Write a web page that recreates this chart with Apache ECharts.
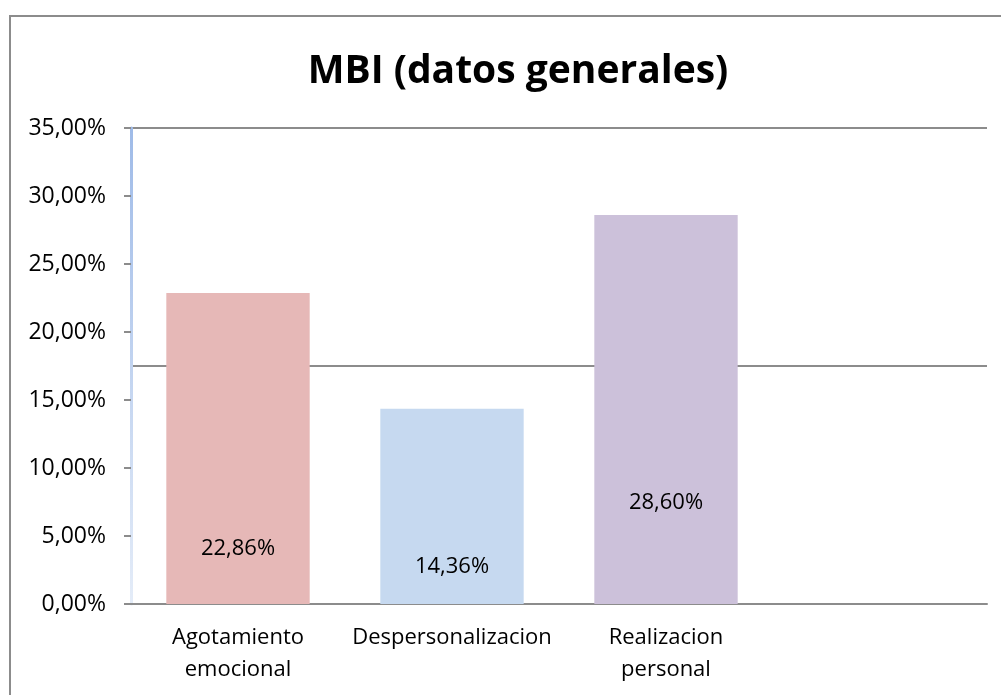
<!DOCTYPE html>
<html>
<head>
<meta charset="utf-8">
<script src="https://cdn.jsdelivr.net/npm/echarts@6/dist/echarts.min.js"></script>
<style>
  html, body { margin: 0; padding: 0; background: #fff; }
  #main { width: 1001px; height: 695px; }
</style>
</head>
<body>
<div id="main"></div>
<script>
// data
var categories = ['Agotamiento\nemocional', 'Despersonalizacion', 'Realizacion\npersonal', ''];
var values = [22.86, 14.36, 28.60, null];
var barColors = ['#e6b8b7', '#c6d9f0', '#ccc1da'];
var yMin = 0;
var yMax = 35;
var yStep = 5;
var guideStep = 17.5;

var font = '"Open Sans", "Noto Sans", sans-serif';

function pct(v) {
  return v.toFixed(2).replace('.', ',') + '%';
}

// how high each value label sits above the base of its bar
var labelLift = [44, 26, 90];

var chartDom = document.getElementById('main');
var myChart = echarts.init(chartDom, null, { renderer: 'canvas' });

var barData = values.map(function (v, i) {
  if (v === null) return null;
  return {
    value: v,
    itemStyle: { color: barColors[i] },
    label: { distance: labelLift[i] }
  };
});

var option = {
  animation: false,
  backgroundColor: '#fff',
  graphic: [{
    type: 'rect',
    shape: { x: 10, y: 16, width: 1100, height: 800 },
    style: { fill: 'none', stroke: '#8c8c8c', lineWidth: 2 },
    silent: true,
    z: -1
  }],
  title: {
    text: 'MBI (datos generales)',
    left: 513,
    top: 47,
    textAlign: 'center',
    textStyle: { fontFamily: font, fontWeight: 'bold', fontSize: 39, color: '#000' }
  },
  grid: { left: 131, right: 14, top: 128, bottom: 91 },
  xAxis: {
    type: 'category',
    data: categories,
    axisLine: { lineStyle: { color: '#8c8c8c', width: 2 } },
    axisTick: { show: false },
    axisLabel: {
      fontFamily: font, fontSize: 22, color: '#000',
      lineHeight: 32, margin: 18, interval: 0
    }
  },
  yAxis: [{
    type: 'value',
    min: yMin, max: yMax, interval: yStep,
    axisLine: {
      show: true,
      lineStyle: {
        width: 3,
        color: {
          type: 'linear', x: 0, y: 128, x2: 0, y2: 604, global: true,
          colorStops: [{ offset: 0, color: '#9fbbe8' }, { offset: 1, color: '#e4ecf8' }]
        }
      }
    },
    axisTick: { show: true, length: 7, lineStyle: { color: '#8c8c8c', width: 2 } },
    splitLine: { show: false },
    axisLabel: { fontFamily: font, fontSize: 23, color: '#000', margin: 25, formatter: pct }
  }, {
    type: 'value',
    min: yMin, max: yMax, interval: guideStep,
    axisLine: { show: false },
    axisTick: { show: false },
    axisLabel: { show: false },
    splitLine: { show: true, lineStyle: { color: '#8c8c8c', width: 2 } }
  }],
  series: [{
    type: 'bar',
    barWidth: '67%',
    data: barData,
    label: {
      show: true,
      position: 'insideBottom',
      fontFamily: font, fontSize: 22, color: '#000',
      formatter: function (p) { return pct(p.value); }
    }
  }]
};

option && myChart.setOption(option);
</script>
</body>
</html>
